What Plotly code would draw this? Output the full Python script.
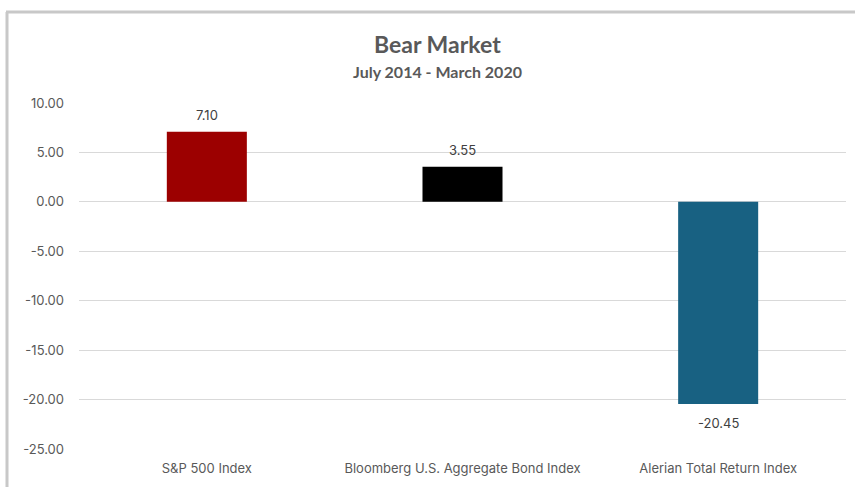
import plotly.graph_objects as go

categories = ["S&P 500 Index", "Bloomberg U.S. Aggregate Bond Index", "Alerian Total Return Index"]
values = [7.10, 3.55, -20.45]
colors = ["#9c0000", "#000000", "#186182"]
tick_vals = [10, 5, 0, -5, -10, -15, -20, -25]
tick_text = ["10.00", "5.00", "0.00", "-5.00", "-10.00", "-15.00", "-20.00", "-25.00"]

L, R, T, B = 79, 9, 103, 38
W, H = 855, 487
pw, ph = W - L - R, H - T - B

def px_x(x):
    return (x - L) / pw

def px_y(y):
    return 1 - (y - T) / ph

fig = go.Figure(go.Bar(
    x=categories, y=values,
    marker=dict(color=colors, line=dict(width=0)),
    width=0.313,
    hoverinfo="skip",
))

label_font = dict(family="Inter, Open Sans, sans-serif", size=13, color="#404040")
annotations = []
for c, v in zip(categories, values):
    annotations.append(dict(
        text=f"{v:.2f}", x=c, y=v, xref="x", yref="y", showarrow=False,
        xanchor="center", yanchor="middle", yshift=17 if v >= 0 else -19,
        font=label_font))

annotations += [
    dict(text="<b>Bear Market</b>", xref="paper", yref="paper",
         x=px_x(437), y=px_y(44), xanchor="center", yanchor="middle", showarrow=False,
         font=dict(family="Liberation Sans Narrow, Lato, sans-serif", size=23, color="#595959")),
    dict(text="<b>July 2014 - March 2020</b>", xref="paper", yref="paper",
         x=px_x(437), y=px_y(72), xanchor="center", yanchor="middle", showarrow=False,
         font=dict(family="Liberation Sans Narrow, Lato, sans-serif", size=16, color="#595959")),
]

fig.update_layout(
    width=W, height=H,
    margin=dict(l=L, r=R, t=T, b=B),
    paper_bgcolor="white", plot_bgcolor="white",
    showlegend=False,
    xaxis=dict(showgrid=False, showline=False, ticks="", ticklabelstandoff=10,
               tickfont=dict(family="Inter, Open Sans, sans-serif", size=13, color="#595959")),
    yaxis=dict(range=[-25, 10], tickvals=tick_vals, ticktext=tick_text,
               showgrid=True, gridcolor="#d9d9d9", gridwidth=1,
               zeroline=True, zerolinecolor="#d9d9d9", zerolinewidth=1,
               showline=False, ticks="", ticklabelstandoff=14,
               tickfont=dict(family="Inter, Open Sans, sans-serif", size=13, color="#595959")),
    annotations=annotations,
    shapes=[
        dict(type="line", xref="paper", yref="paper",
             x0=px_x(7), x1=px_x(7), y0=px_y(500), y1=px_y(12),
             line=dict(color="#c8c8c8", width=3)),
        dict(type="line", xref="paper", yref="paper",
             x0=px_x(6), x1=px_x(870), y0=px_y(12), y1=px_y(12),
             line=dict(color="#c8c8c8", width=3)),
    ],
)

fig.write_html("out.html")
